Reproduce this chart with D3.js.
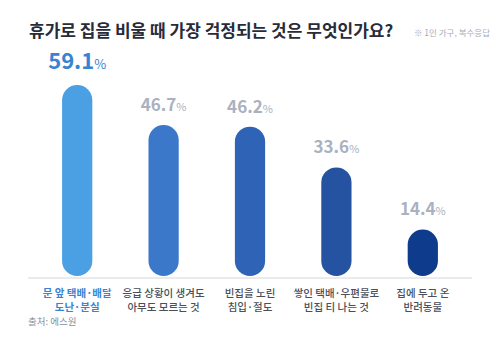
<!DOCTYPE html>
<html>
<head>
<meta charset="utf-8">
<script src="https://cdn.jsdelivr.net/npm/d3@7"></script>
<style>
  body { margin: 0; background: #fff; }
  svg text { font-family: 'Noto Sans CJK KR', 'Noto Sans', sans-serif; }
</style>
</head>
<body>
<svg id="chart"></svg>
<script>
const categories = [
    ['문 앞 택배·배달', '도난·분실'],
    ['응급 상황이 생겨도', '아무도 모르는 것'],
    ['빈집을 노린', '침입·절도'],
    ['쌓인 택배·우편물로', '빈집 티 나는 것'],
    ['집에 두고 온', '반려동물']
];
const values = [59.1, 46.7, 46.2, 33.6, 14.4];
const barColors = ['#4b9fe3', '#3c78c9', '#2e63b6', '#2553a2', '#0f3b8c'];

const w = 500, h = 342;
const svg = d3.select('#chart').attr('width', w).attr('height', h);

const margin = {top: 60, right: 34, bottom: 66, left: 34};
const baseY = 276;

const x = d3.scaleBand()
    .domain(d3.range(values.length))
    .range([margin.left, w - margin.right])
    .paddingInner(0.65)
    .paddingOuter(0.325);

const y = d3.scaleLinear()
    .domain([0, 59.1])
    .range([baseY, 85]);

// title
svg.append('text')
    .attr('x', 29).attr('y', 37)
    .attr('font-size', 17).attr('font-weight', 700)
    .attr('fill', '#272c38')
    .text('휴가로 집을 비울 때 가장 걱정되는 것은 무엇인가요?');

svg.append('text')
    .attr('x', 490).attr('y', 36)
    .attr('text-anchor', 'end')
    .attr('font-size', 8.5)
    .attr('fill', '#a8adb6')
    .text('※ 1인 가구, 복수응답');

// baseline
svg.append('line')
    .attr('x1', 28).attr('x2', 472)
    .attr('y1', baseY + 2).attr('y2', baseY + 2)
    .attr('stroke', '#d4d6da').attr('stroke-width', 1);

const bw = x.bandwidth();

svg.selectAll('rect.bar').data(values)
    .enter().append('rect')
    .attr('class', 'bar')
    .attr('x', (d, i) => x(i))
    .attr('width', bw)
    .attr('y', d => y(d))
    .attr('height', d => baseY - y(d))
    .attr('rx', bw / 2).attr('ry', bw / 2)
    .attr('fill', (d, i) => barColors[i]);

// value labels
const lbl = svg.selectAll('text.val').data(values)
    .enter().append('text')
    .attr('class', 'val')
    .attr('x', (d, i) => x(i) + bw / 2)
    .attr('y', (d, i) => y(d) - (i === 0 ? 16 : 14))
    .attr('text-anchor', 'middle')
    .attr('font-weight', 700)
    .attr('fill', (d, i) => i === 0 ? '#3a83d2' : '#aab1c0');

lbl.append('tspan')
    .attr('font-size', (d, i) => i === 0 ? 22 : 17)
    .text(d => d.toFixed(1));
lbl.append('tspan')
    .attr('font-size', (d, i) => i === 0 ? 13 : 11)
    .attr('font-weight', 400)
    .text('%');

// category labels
categories.forEach((lines, i) => {
    const t = svg.append('text')
        .attr('x', x(i) + bw / 2)
        .attr('text-anchor', 'middle')
        .attr('font-size', 10.5)
        .attr('font-weight', i === 0 ? 700 : 500)
        .attr('fill', i === 0 ? '#3a83d2' : '#4a4f5a');
    lines.forEach((s, j) => {
        t.append('tspan')
            .attr('x', x(i) + bw / 2)
            .attr('y', 297 + j * 14)
            .text(s);
    });
});

svg.append('text')
    .attr('x', 28).attr('y', 325)
    .attr('font-size', 9.5)
    .attr('fill', '#8a8f98')
    .text('출처: 에스원');
</script>
</body>
</html>
